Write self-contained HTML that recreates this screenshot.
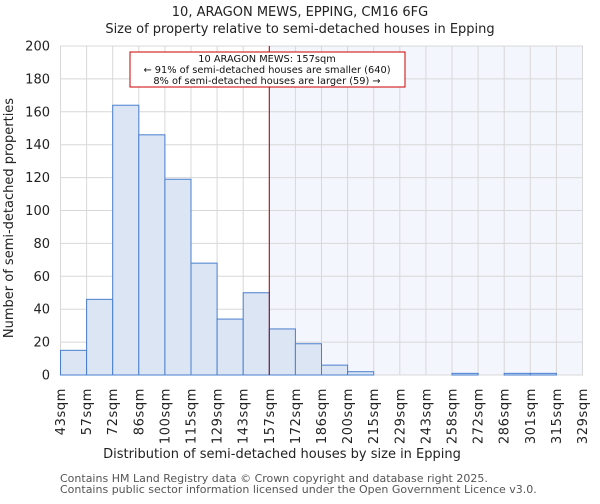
<!DOCTYPE html>
<html><head><meta charset="utf-8"><style>
body{margin:0;background:#fff;font-family:"DejaVu Sans","Liberation Sans",sans-serif;}
</style></head><body>
<svg width="600" height="500" xmlns="http://www.w3.org/2000/svg" font-family="DejaVu Sans, Liberation Sans, sans-serif">
<text x="300" y="16" text-anchor="middle" font-size="13" fill="#222">10, ARAGON MEWS, EPPING, CM16 6FG</text>
<text x="300" y="33" text-anchor="middle" font-size="13" fill="#222">Size of property relative to semi-detached houses in Epping</text>
<g id="plot"></g>
<text x="282" y="458" text-anchor="middle" font-size="13" fill="#222">Distribution of semi-detached houses by size in Epping</text>
<text transform="translate(13,218) rotate(-90)" text-anchor="middle" font-size="13" fill="#222">Number of semi-detached properties</text>
<text x="60" y="482" font-size="11" fill="#555">Contains HM Land Registry data © Crown copyright and database right 2025.</text>
<text x="60" y="493" font-size="11" fill="#555">Contains public sector information licensed under the Open Government Licence v3.0.</text>
</svg>
<script>
const categories=["43sqm","57sqm","72sqm","86sqm","100sqm","115sqm","129sqm","143sqm","157sqm","172sqm","186sqm","200sqm","215sqm","229sqm","243sqm","258sqm","272sqm","286sqm","301sqm","315sqm","329sqm"];
const counts=[15,46,164,146,119,68,34,50,28,19,6,2,0,0,0,1,0,1,1,0];
const yTicks=[0,20,40,60,80,100,120,140,160,180,200];
const markerIndex=8;
const NS="http://www.w3.org/2000/svg";
const g=document.getElementById("plot");
const x0=60.5,x1=582.5,yTop=46,yBot=375,yMax=200;
const n=counts.length;
const bw=(x1-x0)/n;
const xs=i=>x0+i*bw;
const ys=v=>yBot-(v/yMax)*(yBot-yTop);
function mk(tag,attrs){const e=document.createElementNS(NS,tag);for(const k in attrs)e.setAttribute(k,attrs[k]);g.appendChild(e);return e;}
let e;
e=mk("rect",{x:x0,y:yTop,width:x1-x0,height:yBot-yTop,fill:"#fff",stroke:"#d8d8d8"});


e=mk("rect",{x:xs(markerIndex),y:yTop,width:x1-xs(markerIndex),height:yBot-yTop,fill:"#f3f6fd"});


for(let i=0;i<=n;i++){
 e=mk("line",{x1:xs(i),x2:xs(i),y1:yTop,y2:yBot,stroke:"#d8d8d8","stroke-width":1});
 
 
 const t=mk("text",{transform:`translate(${xs(i)+4.5},388) rotate(-90)`,"text-anchor":"end","font-size":"13",fill:"#222","letter-spacing":"0.6"});
 t.textContent=categories[i];
 
 
}
yTicks.forEach(v=>{
 e=mk("line",{x1:x0,x2:x1,y1:ys(v),y2:ys(v),stroke:"#d8d8d8","stroke-width":1});
 
 
 const t=mk("text",{x:50,y:ys(v)+4.5,"text-anchor":"end","font-size":"13",fill:"#222"});
 t.textContent=v;
 
 
});
counts.forEach((c,i)=>{
 if(c<=0)return;
 const b=mk("rect",{x:xs(i),y:ys(c),width:bw,height:yBot-ys(c),fill:"#dbe5f4",stroke:"#4a7fcf","stroke-width":1});
 
 
});
e=mk("line",{x1:xs(markerIndex),x2:xs(markerIndex),y1:yTop,y2:yBot,stroke:"#aa0000","stroke-width":1});


e=mk("rect",{x:130,y:52,width:275,height:35,fill:"#fff",stroke:"#cc0000","stroke-width":1});


["10 ARAGON MEWS: 157sqm","← 91% of semi-detached houses are smaller (640)","8% of semi-detached houses are larger (59) →"].forEach((s,k)=>{
 const t=mk("text",{x:267,y:62+k*11,"text-anchor":"middle","font-size":"9.8",fill:"#111"});
 t.textContent=s;
 
 
});
</script>
</body></html>
